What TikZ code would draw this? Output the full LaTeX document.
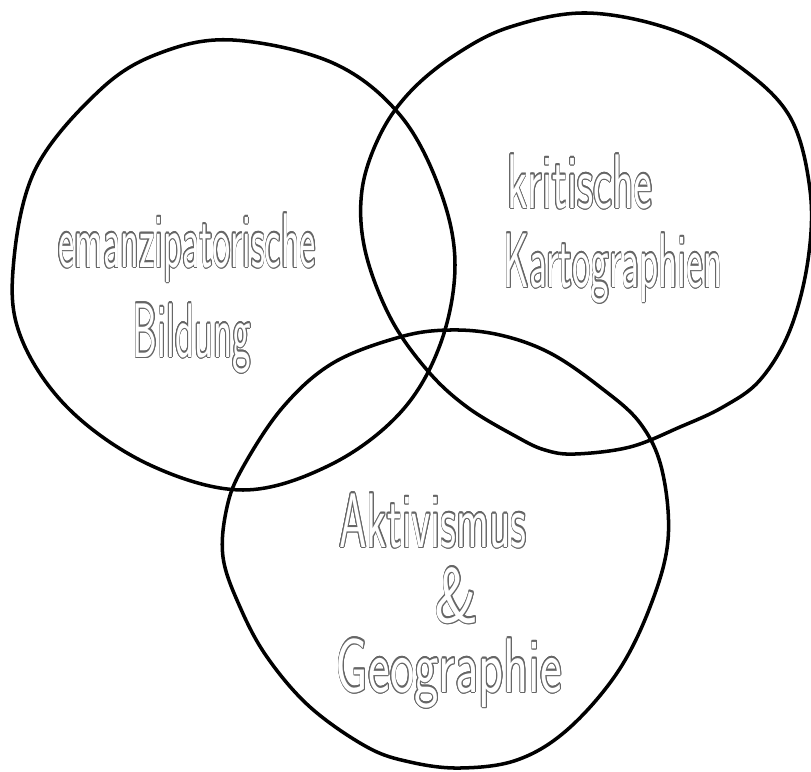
\documentclass[tikz,border=0pt]{standalone}
\usepackage{contour}
\contourlength{0.7pt}
\contournumber{16}
% outlined, narrow hand lettering
\newcommand{\hand}[2]{\scalebox{#1}[1]{\contour{black!60}{#2}}}
\tikzset{
  blob/.style={line width=2pt, line join=round},
  word/.style={anchor=base, inner sep=0pt, text=white, font=\sffamily\fontsize{44}{50}\selectfont},
}
\begin{document}
\begin{tikzpicture}[x=0.02cm, y=-0.02cm]
    \useasboundingbox (0,0) rectangle (811,771);
    % left blob
    \draw[blob] plot[smooth cycle, tension=0.6] coordinates {(233,40) (333,63) (400,115) (440,190) (455,265) (440,345) (400,413) (330,465) (243,490) (150,465) (70,410) (22,340) (13,270) (35,170) (100,90) (160,53)};
    % right blob
    \draw[blob] plot[smooth cycle, tension=0.6] coordinates {(587,13) (673,30) (740,67) (790,117) (810,190) (808,260) (790,330) (760,380) (723,407) (680,427) (630,447) (575,454) (545,450) (517,437) (467,407) (427,370) (390,317) (365,250) (362,190) (380,135) (410,92) (455,55) (510,27)};
    % bottom blob
    \draw[blob] plot[smooth cycle, tension=0.6] coordinates {(450,330) (500,335) (550,353) (600,387) (640,423) (662,470) (668,540) (650,607) (617,673) (567,730) (517,760) (460,768) (410,762) (367,747) (310,707) (267,657) (240,607) (223,557) (227,507) (243,467) (283,407) (333,363) (400,337)};

    \node[word] (eman) at (187,267) {\hand{0.5}{emanzipatorische}};
    \node[word] (bild) at (192,357) {\hand{0.51}{Bildung}};
    \node[word] (krit) at (580,208) {\hand{0.58}{kritische}};
    \node[word] (karto) at (613,287) {\hand{0.51}{Kartographien}};
    \node[word] (akti) at (433,547) {\hand{0.57}{Aktivismus}};
    \node[word] (und) at (457,622) {\hand{0.8}{\&}};
    \node[word] (geo) at (449,692) {\hand{0.67}{Geographie}};
\end{tikzpicture}
\end{document}
